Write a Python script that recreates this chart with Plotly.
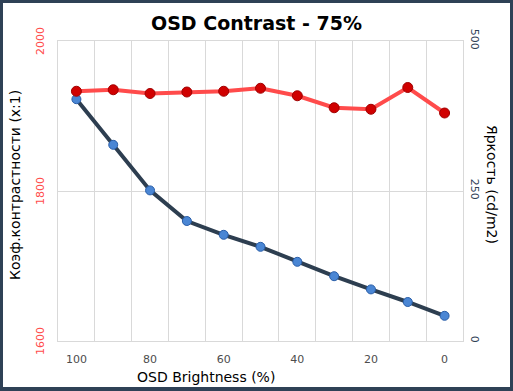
import plotly.graph_objects as go

brightness_pct = [100, 90, 80, 70, 60, 50, 40, 30, 20, 10, 0]
contrast = [1933, 1935, 1930, 1932, 1933, 1937, 1927, 1911, 1909, 1938, 1904]
luminance = [403, 327, 251, 200, 177, 157, 132, 108, 86, 65, 42]
x_tick_labels = [100, 80, 60, 40, 20, 0]
contrast_ticks = [1600, 1800, 2000]
luminance_ticks = [0, 250, 500]

# category boundaries (between neighbouring points) for vertical gridlines
step = brightness_pct[0] - brightness_pct[1]
boundaries = [v + step / 2 for v in brightness_pct] + [brightness_pct[-1] - step / 2]

DARK = "#2f4156"
RED_TXT = "#ff4b4b"
GRID = "#d9d9d9"
FONT = "DejaVu Sans"

fig = go.Figure()

fig.add_trace(go.Scatter(
    x=brightness_pct, y=luminance, yaxis="y", mode="lines+markers",
    line=dict(color="#2d3e50", width=4),
    marker=dict(size=9, color="#4a86d4", line=dict(color="#2a5ea8", width=1)),
    name="Яркость", showlegend=False,
))
fig.add_trace(go.Scatter(
    x=brightness_pct, y=contrast, yaxis="y2", mode="lines+markers",
    line=dict(color="#ff4b4b", width=4),
    marker=dict(size=10, color="#d00000", line=dict(color="#a00000", width=1)),
    name="Контраст", showlegend=False,
))

W, H = 513, 391
ml, mr, mt, mb = 58, 50, 41, 50
pw, ph = W - ml - mr, H - mt - mb

def px2paperx(p):
    return (p - ml) / pw

def px2papery(p):
    return (H - mb - p) / ph

left_tick_annots = [
    dict(text=str(v), xref="paper", yref="y2", x=px2paperx(40), y=v,
         textangle=-90, showarrow=False, xanchor="center", yanchor="middle",
         font=dict(family=FONT, size=11, color=RED_TXT))
    for v in contrast_ticks
]

fig.update_layout(
    width=W, height=H,
    margin=dict(l=ml, r=mr, t=mt, b=mb, autoexpand=False),
    paper_bgcolor=DARK,
    plot_bgcolor="white",
    font=dict(family=FONT),
    title=dict(text="<b>OSD Contrast - 75%</b>", x=0.5, xanchor="center",
               y=1 - 23 / H, yanchor="middle",
               font=dict(family=FONT, size=19, color="black")),
    xaxis=dict(
        range=[boundaries[0], boundaries[-1]],
        tickmode="array", tickvals=x_tick_labels,
        ticktext=[str(v) for v in x_tick_labels],
        showgrid=False, zeroline=False,
        ticks="outside", ticklen=8, tickcolor="rgba(0,0,0,0)",
        tickfont=dict(family=FONT, size=11, color="#4d4d4d"),
        showline=True, linecolor=GRID, linewidth=1, mirror=True,
        minor=dict(tickvals=boundaries, showgrid=True, gridcolor=GRID, gridwidth=1, ticks=""),
    ),
    yaxis=dict(
        range=[0, 500], tickvals=luminance_ticks, side="right",
        showgrid=True, gridcolor=GRID, zeroline=False,
        ticks="outside", ticklen=3, tickcolor="rgba(0,0,0,0)",
        tickangle=90,
        tickfont=dict(family=FONT, size=11, color=DARK),
        showline=True, linecolor=GRID, linewidth=1, mirror=True,
    ),
    yaxis2=dict(
        range=[1600, 2000], tickvals=contrast_ticks, side="left",
        overlaying="y", showgrid=False, zeroline=False,
        ticks="", showticklabels=False,
    ),
    shapes=[dict(
        type="rect", xref="paper", yref="paper", layer="below",
        x0=px2paperx(3), x1=px2paperx(510), y0=px2papery(387), y1=px2papery(3),
        fillcolor="white", line=dict(width=0),
    )],
    annotations=left_tick_annots + [
        dict(text="Коэф.контрастности (x:1)", xref="paper", yref="paper",
             x=px2paperx(15), y=px2papery(185), textangle=-90, showarrow=False,
             xanchor="center", yanchor="middle",
             font=dict(family=FONT, size=14, color="black")),
        dict(text="Яркость (cd/m2)", xref="paper", yref="paper",
             x=px2paperx(492), y=px2papery(185), textangle=90, showarrow=False,
             xanchor="center", yanchor="middle",
             font=dict(family=FONT, size=14, color="black")),
        dict(text="OSD Brightness (%)", xref="paper", yref="paper",
             x=px2paperx(206), y=px2papery(377), showarrow=False,
             xanchor="center", yanchor="middle",
             font=dict(family=FONT, size=14, color="black")),
    ],
)

fig.write_html("out.html", config={"displayModeBar": False},
               post_script="document.body.style.margin='0';")
